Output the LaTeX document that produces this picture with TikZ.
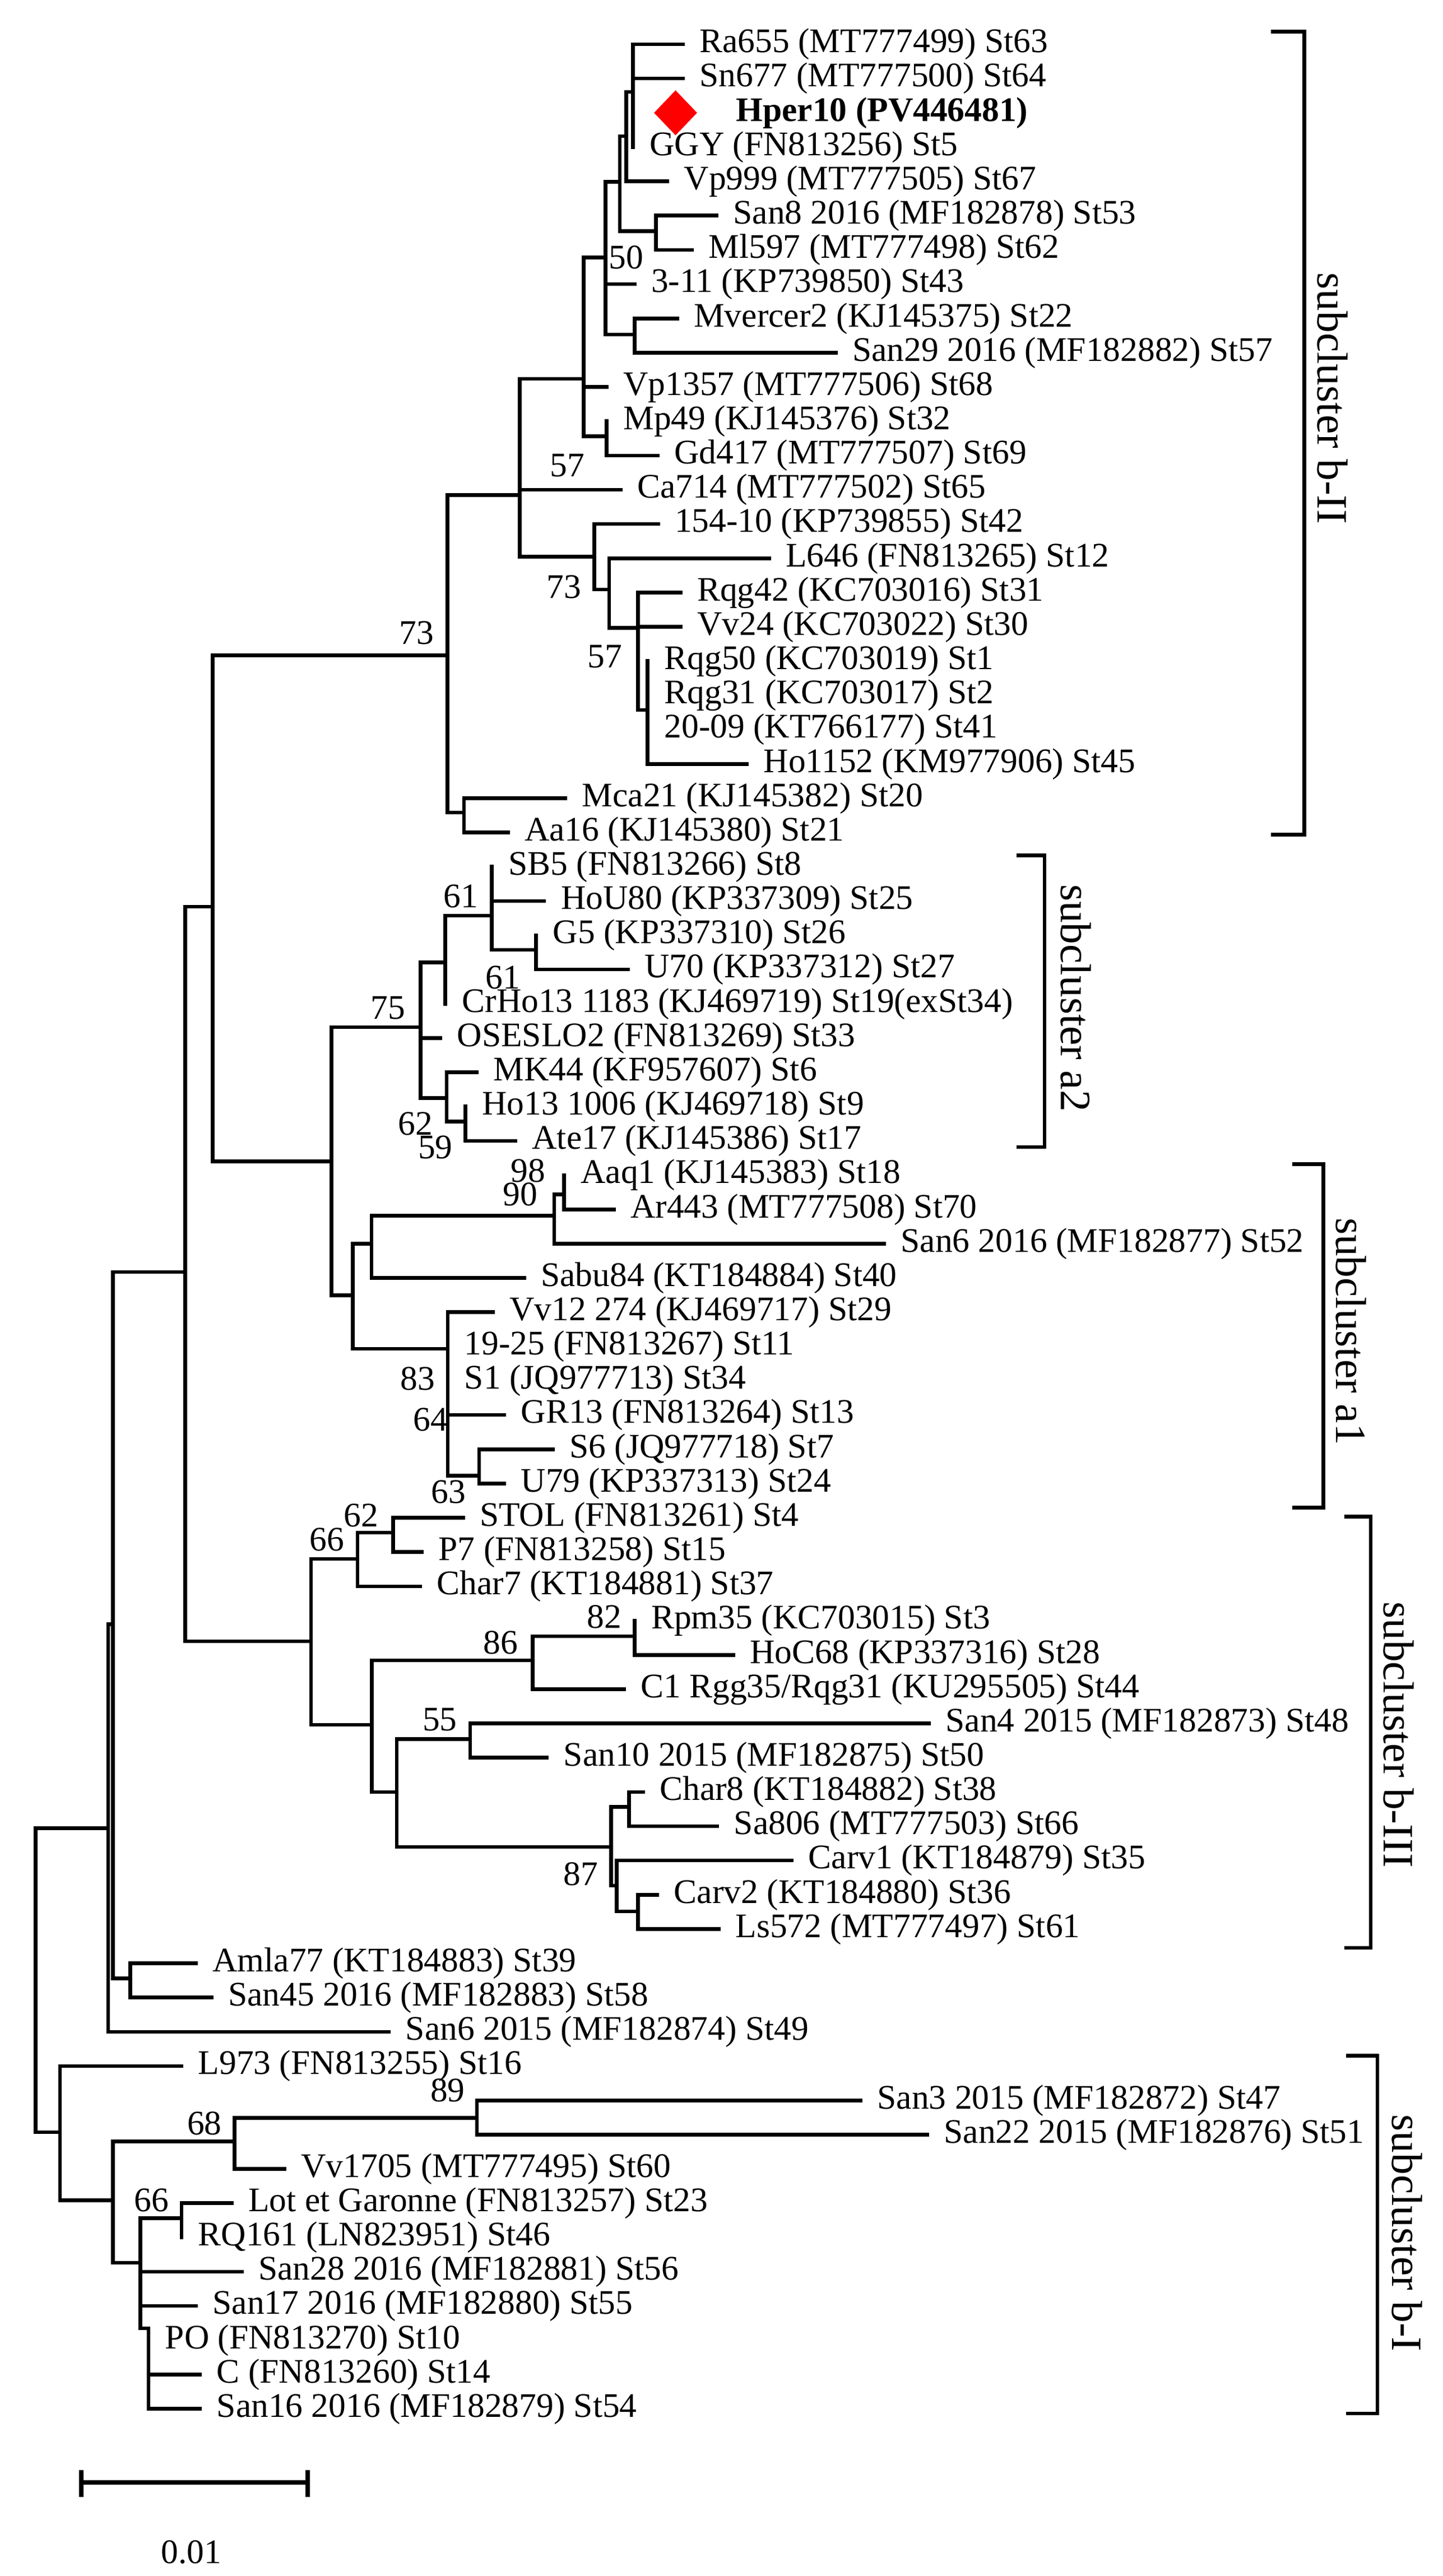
\documentclass[tikz,border=0pt]{standalone}
\usepackage{fontspec}
\setmainfont{Liberation Serif}
\usetikzlibrary{shapes.geometric}
\newcommand{\leaf}[4]{\coordinate (#1) at (#2,#3); \node[leaf] (#1t) at (#1) {#4};}
\begin{document}
\begin{tikzpicture}[x=0.02926cm,y=-0.02926cm,
    br/.style={line width=1.9pt,line cap=rect},
    leaf/.style={anchor=west,inner sep=0pt,xshift=8.3pt,font=\fontsize{17.5}{20}\selectfont},
    bs/.style={inner sep=0pt,font=\fontsize{17.5}{20}\selectfont},
    grp/.style={inner sep=0pt,rotate=-90,font=\fontsize{22}{24}\selectfont}]
    \useasboundingbox (0,0) rectangle (880,1571.1);
    % subcluster b-II
    \coordinate (nA) at (386,56);
    \coordinate (nB) at (382,83);
    \coordinate (nC) at (378,111);
    \coordinate (nSM) at (400,141);
    \coordinate (nE) at (369.2,157);
    \coordinate (nMS) at (387,204);
    \coordinate (nF) at (356,231);
    \coordinate (nMG) at (370,266);
    \coordinate (nG) at (317,302);
    \coordinate (nH) at (362.4,339.5);
    \coordinate (nI) at (371.5,359.5);
    \coordinate (nJ) at (389,383);
    \coordinate (nK) at (395,433);
    \coordinate (nBII) at (273,399.8);
    \coordinate (nMA) at (283,495.6);
    \leaf{Ra655}{416.5}{27}{Ra655 (MT777499) St63}
    \leaf{Sn677}{416.5}{47.9}{Sn677 (MT777500) St64}
    \coordinate (Hper10) at (386,68.8);
    \node[diamond,fill=red,inner sep=0pt,minimum width=22,minimum height=23] (dia) at (412,68.8) {};
    \node[leaf,xshift=0pt] (Hper10t) at (438.7,68.8) {\textbf{Hper10 (PV446481)}};
    \leaf{GGY}{386}{89.7}{GGY (FN813256) St5}
    \leaf{Vp999}{407}{110.6}{Vp999 (MT777505) St67}
    \leaf{San8}{437}{131.5}{San8 2016 (MF182878) St53}
    \leaf{Ml597}{422}{152.4}{Ml597 (MT777498) St62}
    \leaf{l311}{387}{173.3}{3-11 (KP739850) St43}
    \leaf{Mvercer2}{413}{194.2}{Mvercer2 (KJ145375) St22}
    \leaf{San29}{509.7}{215.1}{San29 2016 (MF182882) St57}
    \leaf{Vp1357}{370}{236}{Vp1357 (MT777506) St68}
    \leaf{Mp49}{370}{256.9}{Mp49 (KJ145376) St32}
    \leaf{Gd417}{401}{277.8}{Gd417 (MT777507) St69}
    \leaf{Ca714}{378.4}{298.7}{Ca714 (MT777502) St65}
    \leaf{l15410}{401.3}{319.6}{154-10 (KP739855) St42}
    \leaf{L646}{469}{340.5}{L646 (FN813265) St12}
    \leaf{Rqg42}{415}{361.4}{Rqg42 (KC703016) St31}
    \leaf{Vv24}{415}{382.3}{Vv24 (KC703022) St30}
    \leaf{Rqg50}{395}{403.2}{Rqg50 (KC703019) St1}
    \leaf{Rqg31}{395}{424.1}{Rqg31 (KC703017) St2}
    \leaf{l2009}{395}{445}{20-09 (KT766177) St41}
    \leaf{Ho1152}{455.5}{465.9}{Ho1152 (KM977906) St45}
    \leaf{Mca21}{344.8}{486.8}{Mca21 (KJ145382) St20}
    \leaf{Aa16}{309.7}{507.7}{Aa16 (KJ145380) St21}
    \foreach \c in {Ra655,Sn677,Hper10,GGY} \draw[br] (nA) |- (\c);
    \foreach \c in {nA,Vp999} \draw[br] (nB) |- (\c);
    \foreach \c in {nB,nSM} \draw[br] (nC) |- (\c);
    \foreach \c in {San8,Ml597} \draw[br] (nSM) |- (\c);
    \foreach \c in {nC,l311,nMS} \draw[br] (nE) |- (\c);
    \foreach \c in {Mvercer2,San29} \draw[br] (nMS) |- (\c);
    \foreach \c in {nE,Vp1357,nMG} \draw[br] (nF) |- (\c);
    \foreach \c in {Mp49,Gd417} \draw[br] (nMG) |- (\c);
    \foreach \c in {nF,Ca714,nH} \draw[br] (nG) |- (\c);
    \foreach \c in {l15410,nI} \draw[br] (nH) |- (\c);
    \foreach \c in {L646,nJ} \draw[br] (nI) |- (\c);
    \foreach \c in {Rqg42,Vv24,nK} \draw[br] (nJ) |- (\c);
    \foreach \c in {Rqg50,Rqg31,l2009,Ho1152} \draw[br] (nK) |- (\c);
    \foreach \c in {nG,nMA} \draw[br] (nBII) |- (\c);
    \foreach \c in {Mca21,Aa16} \draw[br] (nMA) |- (\c);
    \node[bs] (b50) at (382,157) {50};
    \node[bs] (b57a) at (346,284) {57};
    \node[bs] (b73a) at (344,358) {73};
    \node[bs] (b57b) at (369,400.5) {57};
    \node[bs] (b73b) at (254,386) {73};
    % subcluster a2
    \coordinate (nI2) at (300,558.4);
    \coordinate (nG5) at (327,579.3);
    \coordinate (nJ2) at (271.6,587);
    \coordinate (nK2) at (256.4,626.4);
    \coordinate (nL2) at (272.4,669.6);
    \coordinate (nM2) at (283.8,684);
    \coordinate (nN) at (202.2,708.3);
    \leaf{SB5}{300}{528.6}{SB5 (FN813266) St8}
    \leaf{HoU80}{331.9}{549.5}{HoU80 (KP337309) St25}
    \leaf{G5}{327}{570.4}{G5 (KP337310) St26}
    \leaf{U70}{383}{591.3}{U70 (KP337312) St27}
    \leaf{CrHo13}{271.6}{612.2}{CrHo13 1183 (KJ469719) St19(exSt34)}
    \leaf{OSESLO2}{268.6}{633.1}{OSESLO2 (FN813269) St33}
    \leaf{MK44}{290.7}{654}{MK44 (KF957607) St6}
    \leaf{Ho13}{283.8}{674.9}{Ho13 1006 (KJ469718) St9}
    \leaf{Ate17}{314.3}{695.8}{Ate17 (KJ145386) St17}
    \foreach \c in {SB5,HoU80,nG5} \draw[br] (nI2) |- (\c);
    \foreach \c in {G5,U70} \draw[br] (nG5) |- (\c);
    \foreach \c in {nI2,CrHo13} \draw[br] (nJ2) |- (\c);
    \foreach \c in {nJ2,OSESLO2,nL2} \draw[br] (nK2) |- (\c);
    \foreach \c in {MK44,nM2} \draw[br] (nL2) |- (\c);
    \foreach \c in {Ho13,Ate17} \draw[br] (nM2) |- (\c);
    \node[bs] (b61a) at (281,546.6) {61};
    \node[bs] (b61b) at (306.7,596.3) {61};
    \node[bs] (b75) at (236.5,614.6) {75};
    \node[bs] (b62a) at (253.3,685.3) {62};
    \node[bs] (b59) at (265.5,699.6) {59};
    % subcluster a1
    \coordinate (nO) at (215.2,789.9);
    \coordinate (nP) at (226.6,758.5);
    \coordinate (nR) at (338,741.5);
    \coordinate (nS) at (344,728.4);
    \coordinate (nQ) at (273.1,822.6);
    \coordinate (nT) at (292.2,900);
    \leaf{Aaq1}{344}{716.7}{Aaq1 (KJ145383) St18}
    \leaf{Ar443}{374.4}{737.6}{Ar443 (MT777508) St70}
    \leaf{San6a}{539.2}{758.5}{San6 2016 (MF182877) St52}
    \leaf{Sabu84}{319.7}{779.4}{Sabu84 (KT184884) St40}
    \leaf{Vv12}{300.6}{800.3}{Vv12 274 (KJ469717) St29}
    \leaf{l1925}{273.1}{821.2}{19-25 (FN813267) St11}
    \leaf{S1}{273.1}{842.1}{S1 (JQ977713) St34}
    \leaf{GR13}{307.5}{863}{GR13 (FN813264) St13}
    \leaf{S6}{337.2}{883.9}{S6 (JQ977718) St7}
    \leaf{U79}{307.5}{904.8}{U79 (KP337313) St24}
    \foreach \c in {nK2,nO} \draw[br] (nN) |- (\c);
    \foreach \c in {nP,nQ} \draw[br] (nO) |- (\c);
    \foreach \c in {nR,Sabu84} \draw[br] (nP) |- (\c);
    \foreach \c in {nS,San6a} \draw[br] (nR) |- (\c);
    \foreach \c in {Aaq1,Ar443} \draw[br] (nS) |- (\c);
    \foreach \c in {Vv12,l1925,S1,GR13,nT} \draw[br] (nQ) |- (\c);
    \foreach \c in {S6,U79} \draw[br] (nT) |- (\c);
    \node[bs] (b98) at (322,714) {98};
    \node[bs] (b90) at (317.4,728.4) {90};
    \node[bs] (b83) at (254.8,840.9) {83};
    \node[bs] (b64) at (262.5,865.8) {64};
    \node[bs] (b63) at (273.6,910) {63};
    % subcluster b-III
    \coordinate (nBIII) at (189.7,1001);
    \coordinate (n62) at (218,950.8);
    \coordinate (nSP) at (239.8,934.7);
    \coordinate (nX) at (226.8,1051.9);
    \coordinate (nY) at (324.9,1012.6);
    \coordinate (nRp) at (387,998);
    \coordinate (nZ) at (242,1093);
    \coordinate (n55) at (286.7,1060.7);
    \coordinate (n87) at (372.8,1126.4);
    \coordinate (nCh) at (383.7,1102);
    \coordinate (nW) at (376,1150);
    \coordinate (nCL) at (389,1165.7);
    \leaf{STOL}{282.4}{925.7}{STOL (FN813261) St4}
    \leaf{P7}{257.3}{946.6}{P7 (FN813258) St15}
    \leaf{Char7}{256.2}{967.5}{Char7 (KT184881) St37}
    \leaf{Rpm35}{387}{988.4}{Rpm35 (KC703015) St3}
    \leaf{HoC68}{447.1}{1009.3}{HoC68 (KP337316) St28}
    \leaf{C1}{380.5}{1030.2}{C1 Rgg35/Rqg31 (KU295505) St44}
    \leaf{San4}{566.6}{1051.1}{San4 2015 (MF182873) St48}
    \leaf{San10}{333.6}{1072}{San10 2015 (MF182875) St50}
    \leaf{Char8}{392.2}{1092.9}{Char8 (KT184882) St38}
    \leaf{Sa806}{437.5}{1113.8}{Sa806 (MT777503) St66}
    \leaf{Carv1}{482.9}{1134.7}{Carv1 (KT184879) St35}
    \leaf{Carv2}{400.9}{1155.6}{Carv2 (KT184880) St36}
    \leaf{Ls572}{438.4}{1176.5}{Ls572 (MT777497) St61}
    \foreach \c in {n62,nX} \draw[br] (nBIII) |- (\c);
    \foreach \c in {nSP,Char7} \draw[br] (n62) |- (\c);
    \foreach \c in {STOL,P7} \draw[br] (nSP) |- (\c);
    \foreach \c in {nY,nZ} \draw[br] (nX) |- (\c);
    \foreach \c in {nRp,C1} \draw[br] (nY) |- (\c);
    \foreach \c in {Rpm35,HoC68} \draw[br] (nRp) |- (\c);
    \foreach \c in {n55,n87} \draw[br] (nZ) |- (\c);
    \foreach \c in {San4,San10} \draw[br] (n55) |- (\c);
    \foreach \c in {nCh,nW} \draw[br] (n87) |- (\c);
    \foreach \c in {Char8,Sa806} \draw[br] (nCh) |- (\c);
    \foreach \c in {Carv1,nCL} \draw[br] (nW) |- (\c);
    \foreach \c in {Carv2,Ls572} \draw[br] (nCL) |- (\c);
    \node[bs] (b66a) at (199.5,939) {66};
    \node[bs] (b62b) at (220.2,924.3) {62};
    \node[bs] (b86) at (305.2,1001.8) {86};
    \node[bs] (b82) at (368.5,986.1) {82};
    \node[bs] (b55) at (268.2,1048.9) {55};
    \node[bs] (b87) at (354.3,1143) {87};
    % backbone
    \coordinate (n130) at (129.7,553);
    \coordinate (n113) at (113,775.8);
    \coordinate (n69) at (68.9,990.6);
    \coordinate (nAm) at (79.4,1206.7);
    \coordinate (n66) at (66,1115);
    \coordinate (root) at (21.8,1115);
    \leaf{Amla77}{119.5}{1197.4}{Amla77 (KT184883) St39}
    \leaf{San45}{129}{1218.3}{San45 2016 (MF182883) St58}
    \leaf{San6b}{237.2}{1239.2}{San6 2015 (MF182874) St49}
    \foreach \c in {nBII,nN} \draw[br] (n130) |- (\c);
    \foreach \c in {n130,nBIII} \draw[br] (n113) |- (\c);
    \foreach \c in {n113,nAm} \draw[br] (n69) |- (\c);
    \foreach \c in {Amla77,San45} \draw[br] (nAm) |- (\c);
    \foreach \c in {n69,San6b} \draw[br] (n66) |- (\c);
    % subcluster b-I
    \coordinate (nBI) at (36.6,1300.4);
    \coordinate (n68g) at (68.9,1341.9);
    \coordinate (n68) at (143,1306);
    \coordinate (n89) at (290.8,1291.7);
    \coordinate (n66b) at (85.5,1380);
    \coordinate (nLot) at (110.7,1352.8);
    \coordinate (nU) at (90.6,1420);
    \leaf{L973}{110.7}{1260.1}{L973 (FN813255) St16}
    \leaf{San3}{524.9}{1281}{San3 2015 (MF182872) St47}
    \leaf{San22}{565.5}{1301.9}{San22 2015 (MF182876) St51}
    \leaf{Vv1705}{173.5}{1322.8}{Vv1705 (MT777495) St60}
    \leaf{Lot}{141.3}{1343.7}{Lot et Garonne (FN813257) St23}
    \leaf{RQ161}{110.7}{1364.6}{RQ161 (LN823951) St46}
    \leaf{San28}{147.4}{1385.5}{San28 2016 (MF182881) St56}
    \leaf{San17}{119.5}{1406.4}{San17 2016 (MF182880) St55}
    \leaf{PO}{90.6}{1427.3}{PO (FN813270) St10}
    \leaf{C}{122}{1448.2}{C (FN813260) St14}
    \leaf{San16}{122}{1469.1}{San16 2016 (MF182879) St54}
    \foreach \c in {n66,nBI} \draw[br] (root) |- (\c);
    \foreach \c in {L973,n68g} \draw[br] (nBI) |- (\c);
    \foreach \c in {n68,n66b} \draw[br] (n68g) |- (\c);
    \foreach \c in {n89,Vv1705} \draw[br] (n68) |- (\c);
    \foreach \c in {San3,San22} \draw[br] (n89) |- (\c);
    \foreach \c in {nLot,San28,San17,nU} \draw[br] (n66b) |- (\c);
    \foreach \c in {Lot,RQ161} \draw[br] (nLot) |- (\c);
    \foreach \c in {PO,C,San16} \draw[br] (nU) |- (\c);
    \node[bs] (b68) at (124.7,1295) {68};
    \node[bs] (b89) at (273,1275) {89};
    \node[bs] (b66b) at (92.4,1342) {66};
    % brackets
    \draw[br,line cap=butt] (775,19.2) -- (795.4,19.2) -- (795.4,509) -- (775,509);
    \node[grp] (gbII) at (812.6,243) {subcluster b-II};
    \draw[br,line cap=butt] (620,521.8) -- (637,521.8) -- (637,699.6) -- (620,699.6);
    \node[grp] (ga2) at (656,608.7) {subcluster a2};
    \draw[br,line cap=butt] (788,710) -- (807,710) -- (807,919.4) -- (788,919.4);
    \node[grp] (ga1) at (824,812) {subcluster a1};
    \draw[br,line cap=butt] (820,925) -- (836,925) -- (836,1188) -- (820,1188);
    \node[grp] (gbIII) at (853,1058) {subcluster b-III};
    \draw[br,line cap=butt] (821,1253.7) -- (840,1253.7) -- (840,1472) -- (821,1472);
    \node[grp] (gbI) at (858,1362) {subcluster b-I};
    % scale
    \coordinate (s0) at (49.6,1514);
    \coordinate (s1) at (187.7,1514);
    \draw[line width=2.4pt] (s0) -- (s1);
    \draw[line width=2.4pt] ([yshift=6.3]s0) -- ([yshift=-7.5]s0);
    \draw[line width=2.4pt] ([yshift=6.3]s1) -- ([yshift=-7.5]s1);
    \node[bs] (sc) at (116.7,1556.7) {0.01};
\end{tikzpicture}
\end{document}
